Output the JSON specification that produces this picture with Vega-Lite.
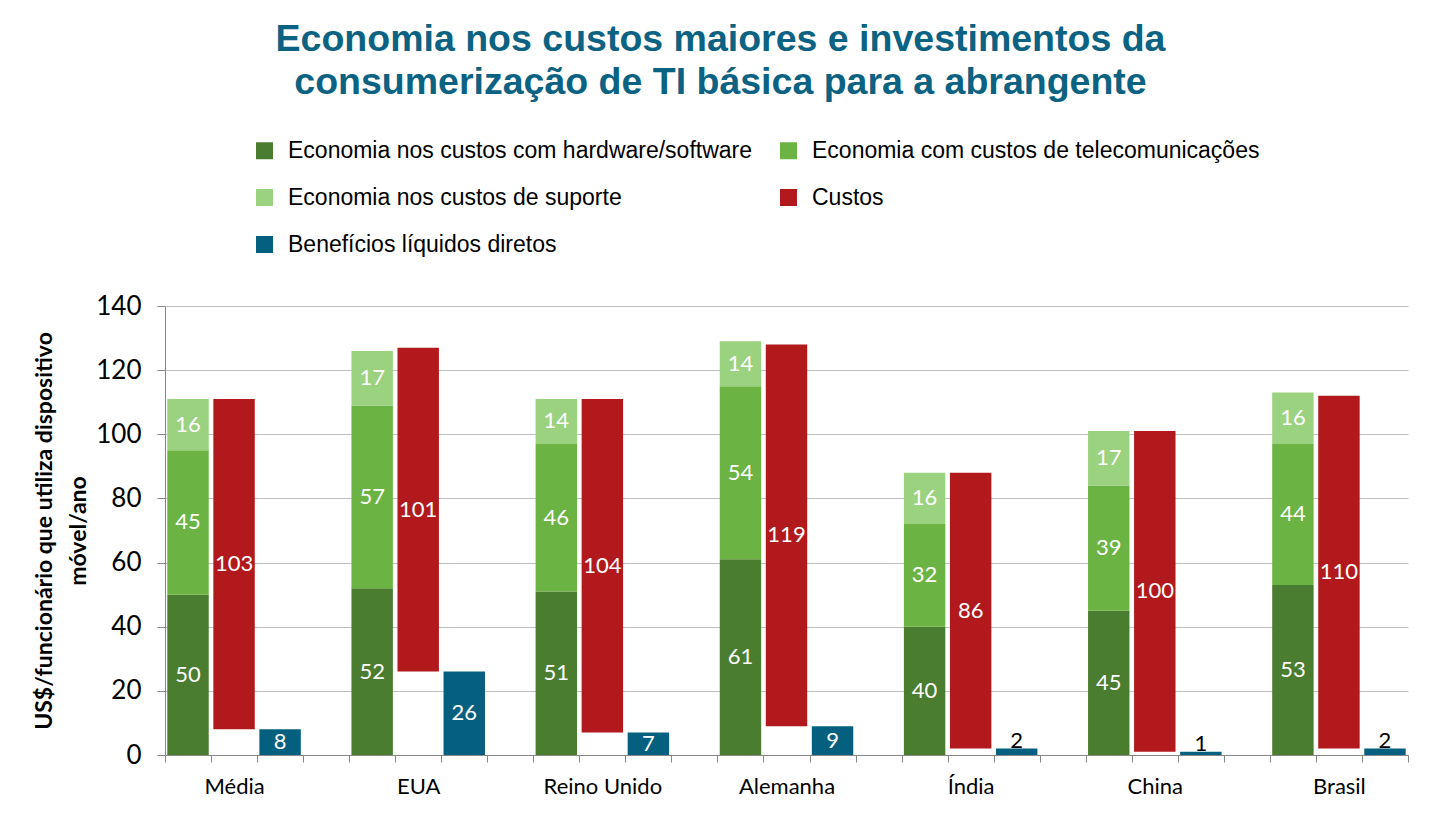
{
  "$schema": "https://vega.github.io/schema/vega-lite/v6.json",
  "width": 1243,
  "height": 449,
  "autosize": {"type": "none"},
  "padding": {"left": 165, "top": 306, "right": 22, "bottom": 61},
  "background": "white",
  "config": {"view": {"stroke": null}},
  "title": {
    "text": ["Economia nos custos maiores e investimentos da", "consumerização de TI básica para a abrangente"],
    "font": "Liberation Sans",
    "fontSize": 37.5,
    "fontWeight": "bold",
    "color": "#0B6282",
    "anchor": "middle",
    "frame": "group",
    "dx": -66,
    "offset": 38,
    "lineHeight": 43
  },
  "data": {
    "values": [
      {"slot": "Média 1", "series": "Economia nos custos com hardware/software", "value": 50, "ord": 1},
      {"slot": "Média 1", "series": "Economia com custos de telecomunicações", "value": 45, "ord": 2},
      {"slot": "Média 1", "series": "Economia nos custos de suporte", "value": 16, "ord": 3},
      {"slot": "Média", "series": "base", "value": 8, "ord": 0},
      {"slot": "Média", "series": "Custos", "value": 103, "ord": 1},
      {"slot": "Média 3", "series": "Benefícios líquidos diretos", "value": 8, "ord": 1},

      {"slot": "EUA 1", "series": "Economia nos custos com hardware/software", "value": 52, "ord": 1},
      {"slot": "EUA 1", "series": "Economia com custos de telecomunicações", "value": 57, "ord": 2},
      {"slot": "EUA 1", "series": "Economia nos custos de suporte", "value": 17, "ord": 3},
      {"slot": "EUA", "series": "base", "value": 26, "ord": 0},
      {"slot": "EUA", "series": "Custos", "value": 101, "ord": 1},
      {"slot": "EUA 3", "series": "Benefícios líquidos diretos", "value": 26, "ord": 1},

      {"slot": "Reino Unido 1", "series": "Economia nos custos com hardware/software", "value": 51, "ord": 1},
      {"slot": "Reino Unido 1", "series": "Economia com custos de telecomunicações", "value": 46, "ord": 2},
      {"slot": "Reino Unido 1", "series": "Economia nos custos de suporte", "value": 14, "ord": 3},
      {"slot": "Reino Unido", "series": "base", "value": 7, "ord": 0},
      {"slot": "Reino Unido", "series": "Custos", "value": 104, "ord": 1},
      {"slot": "Reino Unido 3", "series": "Benefícios líquidos diretos", "value": 7, "ord": 1},

      {"slot": "Alemanha 1", "series": "Economia nos custos com hardware/software", "value": 61, "ord": 1},
      {"slot": "Alemanha 1", "series": "Economia com custos de telecomunicações", "value": 54, "ord": 2},
      {"slot": "Alemanha 1", "series": "Economia nos custos de suporte", "value": 14, "ord": 3},
      {"slot": "Alemanha", "series": "base", "value": 9, "ord": 0},
      {"slot": "Alemanha", "series": "Custos", "value": 119, "ord": 1},
      {"slot": "Alemanha 3", "series": "Benefícios líquidos diretos", "value": 9, "ord": 1},

      {"slot": "Índia 1", "series": "Economia nos custos com hardware/software", "value": 40, "ord": 1},
      {"slot": "Índia 1", "series": "Economia com custos de telecomunicações", "value": 32, "ord": 2},
      {"slot": "Índia 1", "series": "Economia nos custos de suporte", "value": 16, "ord": 3},
      {"slot": "Índia", "series": "base", "value": 2, "ord": 0},
      {"slot": "Índia", "series": "Custos", "value": 86, "ord": 1},
      {"slot": "Índia 3", "series": "Benefícios líquidos diretos", "value": 2, "ord": 1},

      {"slot": "China 1", "series": "Economia nos custos com hardware/software", "value": 45, "ord": 1},
      {"slot": "China 1", "series": "Economia com custos de telecomunicações", "value": 39, "ord": 2},
      {"slot": "China 1", "series": "Economia nos custos de suporte", "value": 17, "ord": 3},
      {"slot": "China", "series": "base", "value": 1, "ord": 0},
      {"slot": "China", "series": "Custos", "value": 100, "ord": 1},
      {"slot": "China 3", "series": "Benefícios líquidos diretos", "value": 1, "ord": 1},

      {"slot": "Brasil 1", "series": "Economia nos custos com hardware/software", "value": 53, "ord": 1},
      {"slot": "Brasil 1", "series": "Economia com custos de telecomunicações", "value": 44, "ord": 2},
      {"slot": "Brasil 1", "series": "Economia nos custos de suporte", "value": 16, "ord": 3},
      {"slot": "Brasil", "series": "base", "value": 2, "ord": 0},
      {"slot": "Brasil", "series": "Custos", "value": 110, "ord": 1},
      {"slot": "Brasil 3", "series": "Benefícios líquidos diretos", "value": 2, "ord": 1}
    ]
  },
  "encoding": {
    "x": {
      "field": "slot",
      "type": "nominal",
      "sort": null,
      "scale": {
        "domain": ["Média 1", "Média", "Média 3", "g1", "EUA 1", "EUA", "EUA 3", "g2", "Reino Unido 1", "Reino Unido", "Reino Unido 3", "g3", "Alemanha 1", "Alemanha", "Alemanha 3", "g4", "Índia 1", "Índia", "Índia 3", "g5", "China 1", "China", "China 3", "g6", "Brasil 1", "Brasil", "Brasil 3"],
        "paddingInner": 0,
        "paddingOuter": 0
      },
      "axis": {
        "title": null,
        "tickBand": "extent",
        "labelExpr": "(datum.value == 'Média' || datum.value == 'EUA' || datum.value == 'Reino Unido' || datum.value == 'Alemanha' || datum.value == 'Índia' || datum.value == 'China' || datum.value == 'Brasil') ? datum.value : ''",
        "labelAngle": 0,
        "labelOverlap": false,
        "labelLimit": 300,
        "domainColor": "#868686",
        "tickColor": "#868686",
        "tickSize": 7,
        "labelFont": "Lato",
        "labelFontSize": 22,
        "labelColor": "#000000",
        "labelPadding": 14,
        "grid": false
      }
    }
  },
  "layer": [
    {
      "mark": {"type": "bar", "width": {"band": 0.9}},
      "encoding": {
        "y": {
          "field": "value",
          "type": "quantitative",
          "stack": "zero",
          "scale": {"domain": [0, 140], "nice": false},
          "axis": {
            "values": [0, 20, 40, 60, 80, 100, 120, 140],
            "grid": true,
            "gridColor": "#BFBFBF",
            "domainColor": "#868686",
            "tickColor": "#868686",
            "tickSize": 8,
            "labelFont": "Lato",
            "labelFontSize": 26,
            "labelColor": "#000000",
            "labelPadding": 16,
            "title": ["US$/funcionário que utiliza dispositivo", "móvel/ano"],
            "titleFont": "Lato",
            "titleFontWeight": "bold",
            "titleFontSize": 23,
            "titleColor": "#000000",
            "titleLineHeight": 34,
            "titlePadding": 5
          }
        },
        "color": {
          "field": "series",
          "type": "nominal",
          "scale": {
            "domain": ["Economia nos custos com hardware/software", "Economia com custos de telecomunicações", "Economia nos custos de suporte", "Custos", "Benefícios líquidos diretos"],
            "range": ["#4A7D2F", "#6BB444", "#9BD27F", "#B2191C", "#05607F"]
          },
          "legend": {
            "title": null,
            "orient": "none",
            "legendX": 88,
            "legendY": -167,
            "columns": 2,
            "values": ["Economia nos custos com hardware/software", "Economia nos custos de suporte", "Benefícios líquidos diretos", "Economia com custos de telecomunicações", "Custos"],
            "symbolType": "square",
            "symbolSize": 289,
            "symbolStrokeWidth": 0,
            "symbolOpacity": 1,
            "labelFont": "Liberation Sans",
            "labelFontSize": 23,
            "labelColor": "#000000",
            "labelOffset": 12,
            "labelLimit": 700,
            "columnPadding": 24,
            "rowPadding": 23,
            "padding": 0
          }
        },
        "order": {"field": "ord", "type": "quantitative"},
        "opacity": {"condition": {"test": "datum.series === 'base'", "value": 0}, "value": 1}
      }
    },
    {
      "mark": {"type": "text", "fill": "#FFFFFF", "font": "Lato", "fontSize": 22, "baseline": "middle"},
      "encoding": {
        "y": {"field": "value", "type": "quantitative", "stack": "zero", "bandPosition": 0.5, "scale": {"domain": [0, 140], "nice": false}},
        "detail": {"field": "series"},
        "order": {"field": "ord", "type": "quantitative"},
        "text": {"field": "value", "type": "quantitative"},
        "opacity": {"condition": {"test": "datum.series === 'base' || (datum.series === 'Benefícios líquidos diretos' && datum.value < 5)", "value": 0}, "value": 1}
      }
    },
    {
      "transform": [{"filter": "datum.series === 'Benefícios líquidos diretos' && datum.value < 5"}],
      "mark": {"type": "text", "fill": "#000000", "font": "Lato", "fontSize": 22, "baseline": "alphabetic", "dy": -1},
      "encoding": {
        "y": {"field": "value", "type": "quantitative", "stack": null, "scale": {"domain": [0, 140], "nice": false}},
        "text": {"field": "value", "type": "quantitative"}
      }
    }
  ]
}
